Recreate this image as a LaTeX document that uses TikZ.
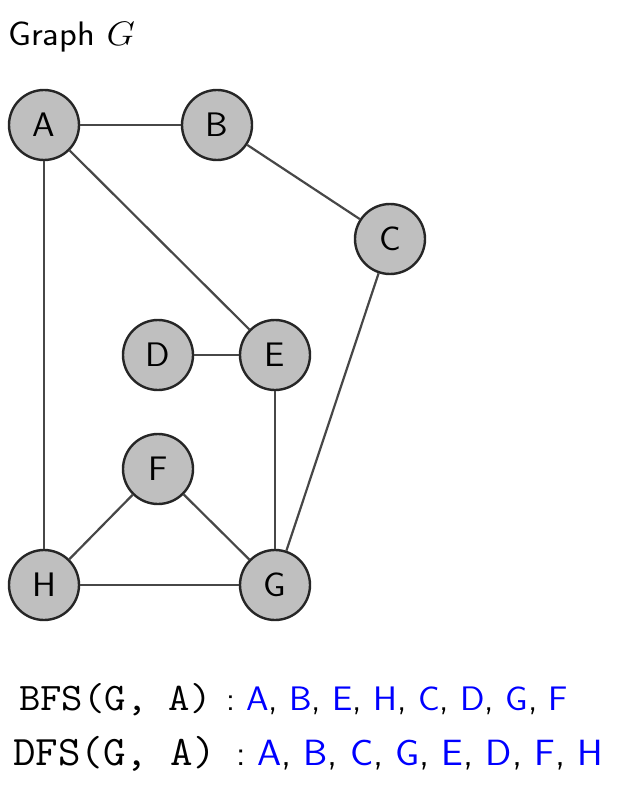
\RequirePackage{fix-cm}
\documentclass[tikz,border=0pt]{standalone}
\usepackage{fontspec}
\newcommand{\vtx}[1]{\textcolor{blue}{#1}}
\newcommand{\wide}[2]{\scalebox{#1}[1]{#2}}
\tikzset{
  vertex/.style={circle, draw=black!85, fill=black!25, line width=2.4pt,
    minimum size=70pt, inner sep=0pt, font=\fontsize{34}{40}\selectfont\sffamily},
  edge/.style={draw=black!72, line width=2.2pt},
  titletext/.style={anchor=base west, inner sep=0pt, font=\fontsize{34}{40}\selectfont\sffamily},
  traversal/.style={anchor=base west, inner sep=0pt}
}
\begin{document}
\begin{tikzpicture}[x=1pt, y=-1pt]
  \useasboundingbox (0,0) rectangle (618,794);

  % heading
  \node[titletext] (title) at (8,46) {\wide{1.08}{Graph $G$}};

  % vertices
  \node[vertex] (A) at (44,125) {\wide{1.06}{A}};
  \node[vertex] (B) at (217,125) {\wide{1.06}{B}};
  \node[vertex] (C) at (390,239) {\wide{1.06}{C}};
  \node[vertex] (D) at (158,355) {\wide{1.06}{D}};
  \node[vertex] (E) at (275,355) {\wide{1.06}{E}};
  \node[vertex] (F) at (158,469) {\wide{1.06}{F}};
  \node[vertex] (G) at (275,585) {\wide{1.06}{G}};
  \node[vertex] (H) at (44,585) {\wide{1.06}{H}};

  % edges
  \draw[edge] (A) -- (B);
  \draw[edge] (A) -- (E);
  \draw[edge] (A) -- (H);
  \draw[edge] (B) -- (C);
  \draw[edge] (C) -- (G);
  \draw[edge] (D) -- (E);
  \draw[edge] (E) -- (G);
  \draw[edge] (F) -- (H);
  \draw[edge] (F) -- (G);
  \draw[edge] (H) -- (G);

  % breadth-first order
  \node[traversal, font=\fontsize{39}{40}\selectfont\ttfamily] (bfscall) at (19,710)
    {\wide{1.065}{BFS(G, A)}};
  \node[traversal, font=\fontsize{34}{40}\selectfont\sffamily] (bfscolon) at (226,710) {:};
  \node[traversal, font=\fontsize{34}{40}\selectfont\sffamily] (bfslist) at (246,710)
    {\wide{1.06}{\vtx{A}, \vtx{B}, \vtx{E}, \vtx{H}, \vtx{C}, \vtx{D}, \vtx{G}, \vtx{F}}};

  % depth-first order
  \node[traversal, font=\fontsize{42}{44}\selectfont\ttfamily] (dfscall) at (13,765)
    {\wide{1.04}{DFS(G, A)}};
  \node[traversal, font=\fontsize{36}{42}\selectfont\sffamily] (dfscolon) at (236,765) {:};
  \node[traversal, font=\fontsize{36.5}{42}\selectfont\sffamily] (dfslist) at (257,765)
    {\wide{1.06}{\vtx{A}, \vtx{B}, \vtx{C}, \vtx{G}, \vtx{E}, \vtx{D}, \vtx{F}, \vtx{H}}};
\end{tikzpicture}
\end{document}
